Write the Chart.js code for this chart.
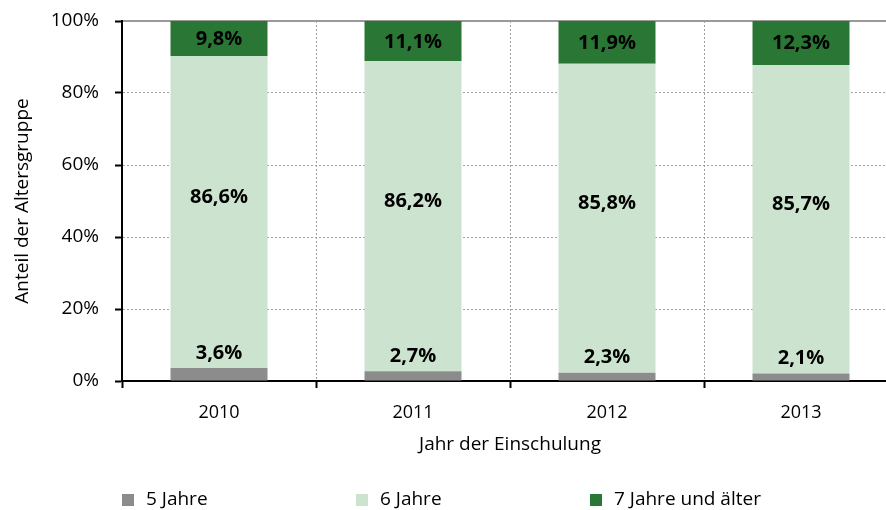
<!DOCTYPE html>
<html>
<head>
<meta charset="utf-8">
<script src="https://cdn.jsdelivr.net/npm/chart.js@4"></script>
<style>
  html, body { margin: 0; padding: 0; background: #fff; overflow: hidden; }
  #wrap { width: 898px; height: 510px; }
</style>
</head>
<body>
<div id="wrap"><canvas id="chart" width="898" height="510"></canvas></div>
<script>
const years = ["2010", "2011", "2012", "2013"];
const age5 = [3.6, 2.7, 2.3, 2.1];
const age6 = [86.6, 86.2, 85.8, 85.7];
const age7 = [9.8, 11.1, 11.9, 12.3];
const seriesNames = ["5 Jahre", "6 Jahre", "7 Jahre und älter"];
const seriesColors = ["#8c8c8c", "#cce4cf", "#2a7634"];
const yTicks = [0, 20, 40, 60, 80, 100];

const FONT = "'Open Sans', sans-serif";

// labels inside / above the bars
const valueLabels = {
  id: "valueLabels",
  afterDatasetsDraw(chart) {
    const ctx = chart.ctx;
    ctx.save();
    ctx.font = "bold 20px " + FONT;
    ctx.fillStyle = "#000";
    ctx.textAlign = "center";
    ctx.textBaseline = "middle";
    chart.data.datasets.forEach((ds, di) => {
      const meta = chart.getDatasetMeta(di);
      meta.data.forEach((bar, i) => {
        const txt = ds.data[i].toFixed(1).replace(".", ",") + "%";
        let y;
        if (di === 0) y = bar.y - 15;
        else if (di === 1) y = (bar.y + bar.base) / 2 - 15;
        else y = (bar.y + bar.base) / 2 + 1;
        ctx.fillText(txt, bar.x, y);
      });
    });
    ctx.restore();
  }
};

// legend row under the axis title
const legendRow = {
  id: "legendRow",
  afterDraw(chart) {
    const ctx = chart.ctx;
    const left = chart.chartArea.left;
    ctx.save();
    ctx.font = "19px " + FONT;
    ctx.textBaseline = "middle";
    chart.data.datasets.forEach((ds, i) => {
      const x = left + i * 234;
      ctx.fillStyle = ds.backgroundColor;
      ctx.fillRect(x, 494, 12, 12);
      ctx.fillStyle = "#000";
      ctx.fillText(ds.label, x + 24, 500);
    });
    ctx.restore();
  }
};

new Chart(document.getElementById("chart").getContext("2d"), {
  type: "bar",
  data: {
    labels: years,
    datasets: [
      { label: seriesNames[0], data: age5, backgroundColor: seriesColors[0] },
      { label: seriesNames[1], data: age6, backgroundColor: seriesColors[1] },
      { label: seriesNames[2], data: age7, backgroundColor: seriesColors[2] }
    ]
  },
  options: {
    responsive: false,
    animation: false,
    barPercentage: 0.5,
    categoryPercentage: 1,
    layout: { padding: { top: 21, bottom: 50, left: 0, right: 0 } },
    plugins: { legend: { display: false }, tooltip: { enabled: false } },
    scales: {
      x: {
        stacked: true,
        afterFit: s => { s.height = 79; s.paddingLeft = 0; s.paddingRight = 0; },
        grid: {
          offset: true,
          color: c => (c.index === 0 ? "rgba(0,0,0,0)" : "#a0a0a0"),
          tickColor: "#000",
          tickLength: 7,
          tickWidth: 2,
          tickBorderDash: []
        },
        border: { color: "#000", width: 2, dash: [2, 2] },
        ticks: { color: "#000", padding: 14, font: { family: FONT, size: 18 } },
        title: {
          display: true,
          text: "Jahr der Einschulung",
          color: "#000",
          padding: 4,
          font: { family: FONT, size: 19 }
        }
      },
      x2: {
        type: "category",
        labels: years,
        position: "top",
        afterFit: s => { s.height = 0; s.paddingLeft = 0; s.paddingRight = 0; },
        grid: { display: false, drawTicks: false },
        border: { color: "#9a9a9a", width: 2 },
        ticks: { display: false }
      },
      y: {
        stacked: true,
        min: 0,
        max: 100,
        afterFit: s => { s.width = 122; s.paddingTop = 0; s.paddingBottom = 0; },
        afterBuildTicks: s => { s.ticks = yTicks.map(v => ({ value: v })); },
        grid: {
          color: c => (c.tick && (c.tick.value === 0 || c.tick.value === 100) ? "rgba(0,0,0,0)" : "#a0a0a0"),
          tickColor: "#000",
          tickLength: 7,
          tickWidth: 2,
          tickBorderDash: []
        },
        border: { color: "#000", width: 2, dash: [2, 2] },
        ticks: {
          color: "#000",
          padding: 16,
          font: { family: FONT, size: 19 },
          callback: v => v + "%"
        },
        title: {
          display: true,
          text: "Anteil der Altersgruppe",
          color: "#000",
          padding: 11,
          font: { family: FONT, size: 19 }
        }
      }
    }
  },
  plugins: [valueLabels, legendRow]
});
</script>
</body>
</html>
